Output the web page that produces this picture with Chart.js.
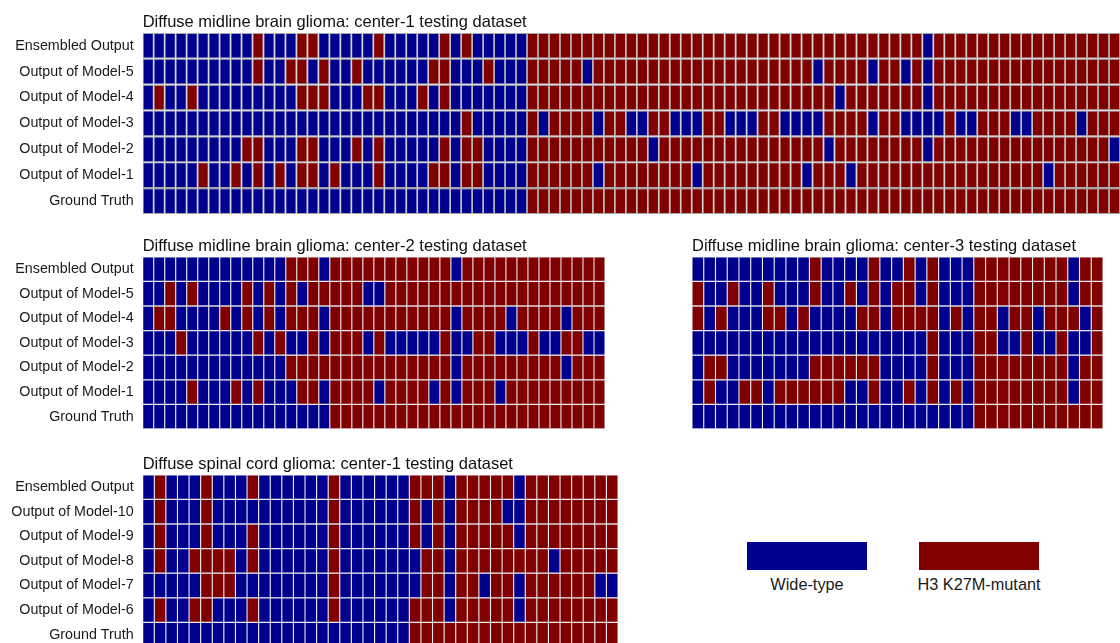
<!DOCTYPE html>
<html>
<head>
<meta charset="utf-8">
<script src="https://cdn.jsdelivr.net/npm/chart.js@4.4.1/dist/chart.umd.min.js"></script>
<style>
  html, body { margin: 0; padding: 0; background: #fff; width: 1120px; height: 643px; overflow: hidden; position: relative; }
  body { font-family: "Liberation Sans", Arial, sans-serif; }
  canvas { position: absolute; }
  .swatch { position: absolute; top: 542px; width: 120px; height: 28px; }
  .swatch-label { position: absolute; top: 574px; width: 200px; text-align: center; font-size: 16.3px; line-height: 20px; color: #1a1a1a; }
</style>
</head>
<body>
<canvas id="brain1" width="1120" height="207" style="left:0;top:7px"></canvas>
<canvas id="brain2" width="605" height="198" style="left:0;top:231px"></canvas>
<canvas id="brain3" width="411" height="198" style="left:692px;top:231px"></canvas>
<canvas id="spinal1" width="618" height="198" style="left:0;top:449px"></canvas>

<div class="swatch" style="left:747px;background:#00008f"></div>
<div class="swatch" style="left:919px;background:#800000"></div>
<div class="swatch-label" style="left:707px">Wide-type</div>
<div class="swatch-label" style="left:879px">H3 K27M-mutant</div>

<script>
// 0 = wild type, 1 = H3 K27M-mutant
const statusNames = ['Wide-type', 'H3 K27M-mutant'];
const statusColors = ['#00008f', '#800000'];

const brainRowLabels = ['Ensembled Output', 'Output of Model-5', 'Output of Model-4', 'Output of Model-3',
  'Output of Model-2', 'Output of Model-1', 'Ground Truth'];
const spinalRowLabels = ['Ensembled Output', 'Output of Model-10', 'Output of Model-9', 'Output of Model-8',
  'Output of Model-7', 'Output of Model-6', 'Ground Truth'];

// Diffuse midline brain glioma, center-1 (89 cases)
const b1Ensembled = [0,0,0,0,0,0,0,0,0,0, 1,0,0,0,1,1,0,0,0,0, 0,1,0,0,0,0,0,1,0,1, 0,0,0,0,0,1,1,1,1,1,
  1,1,1,1,1,1,1,1,1,1, 1,1,1,1,1,1,1,1,1,1, 1,1,1,1,1,1,1,1,1,1, 1,0,1,1,1,1,1,1,1,1, 1,1,1,1,1,1,1,1,1];
const b1Model5 = [0,0,0,0,0,0,0,0,0,0, 1,0,0,1,1,0,1,0,0,1, 0,0,0,0,0,0,1,1,0,0, 0,1,0,0,0,1,1,1,1,1,
  0,1,1,1,1,1,1,1,1,1, 1,1,1,1,1,1,1,1,1,1, 1,0,1,1,1,1,0,1,1,0, 1,0,1,1,1,1,1,1,1,1, 1,1,1,1,1,1,1,1,1];
const b1Model4 = [0,1,0,0,1,0,0,0,0,0, 0,0,0,0,1,1,1,0,0,0, 1,1,0,0,0,1,0,1,0,0, 0,0,0,0,0,1,1,1,1,1,
  1,1,1,1,1,1,1,1,1,1, 1,1,1,1,1,1,1,1,1,1, 1,1,1,0,1,1,1,1,1,1, 1,0,1,1,1,1,1,1,1,1, 1,1,1,1,1,1,1,1,1];
const b1Model3 = [0,0,0,0,0,0,0,0,0,0, 0,0,0,0,0,0,0,0,0,0, 0,0,0,0,0,0,0,0,0,1, 0,0,0,0,0,1,0,1,1,1,
  1,0,1,1,0,0,1,1,0,0, 0,1,1,0,0,0,1,1,0,0, 0,0,1,1,1,1,0,1,1,0, 0,0,0,1,0,0,1,1,1,0, 0,1,1,1,1,0,1,1,1];
const b1Model2 = [0,0,0,0,0,0,0,0,0,1, 1,0,0,0,1,1,0,0,0,1, 0,1,0,0,0,0,0,1,0,1, 1,0,0,0,0,1,1,1,1,1,
  1,1,1,1,1,1,0,1,1,1, 1,1,1,1,1,1,1,1,1,1, 1,1,0,1,1,1,1,1,1,1, 1,0,1,1,1,1,1,1,1,1, 1,1,1,1,1,1,1,1,0];
const b1Model1 = [0,0,0,0,0,1,0,0,1,0, 1,0,1,0,1,1,0,1,0,0, 0,1,0,0,0,0,1,1,0,1, 1,0,0,0,0,1,1,1,1,1,
  1,0,1,1,1,1,1,1,1,1, 0,1,1,1,1,1,1,1,1,1, 0,1,1,1,0,1,1,1,1,1, 1,1,1,1,1,1,1,1,1,1, 1,1,0,1,1,1,1,1,1];
const b1Truth = [0,0,0,0,0,0,0,0,0,0, 0,0,0,0,0,0,0,0,0,0, 0,0,0,0,0,0,0,0,0,0, 0,0,0,0,0,1,1,1,1,1,
  1,1,1,1,1,1,1,1,1,1, 1,1,1,1,1,1,1,1,1,1, 1,1,1,1,1,1,1,1,1,1, 1,1,1,1,1,1,1,1,1,1, 1,1,1,1,1,1,1,1,1];

// Diffuse midline brain glioma, center-2 (42 cases)
const b2Ensembled = [0,0,0,0,0,0,0,0,0,0, 0,0,0,1,1,1,0,1,1,1, 1,1,1,1,1,1,1,1,0,1, 1,1,1,1,1,1,1,1,1,1, 1,1];
const b2Model5 = [0,0,1,0,1,0,0,0,0,1, 0,1,0,1,0,1,1,1,1,1, 0,0,1,1,1,1,1,1,1,1, 1,1,1,1,1,1,1,1,1,1, 1,1];
const b2Model4 = [0,1,1,0,0,0,0,1,0,1, 0,1,0,1,1,1,0,1,1,1, 1,1,1,1,1,1,1,1,0,1, 1,1,1,0,1,1,1,1,0,1, 1,1];
const b2Model3 = [0,0,0,1,0,0,0,0,0,0, 1,0,1,0,0,1,0,1,1,1, 0,1,0,0,0,0,0,1,0,0, 1,1,0,0,0,1,0,0,1,1, 0,0];
const b2Model2 = [0,0,0,0,0,0,0,0,0,0, 0,0,0,1,1,1,1,1,1,1, 1,1,1,1,1,1,1,1,0,1, 1,1,1,1,1,1,1,1,0,1, 1,1];
const b2Model1 = [0,0,0,0,1,0,0,0,1,0, 1,0,0,0,1,1,0,1,1,1, 1,0,1,1,1,1,0,1,0,1, 1,1,0,1,1,1,1,1,1,1, 1,1];
const b2Truth = [0,0,0,0,0,0,0,0,0,0, 0,0,0,0,0,0,0,1,1,1, 1,1,1,1,1,1,1,1,1,1, 1,1,1,1,1,1,1,1,1,1, 1,1];

// Diffuse midline brain glioma, center-3 (35 cases)
const b3Ensembled = [0,0,0,0,0,0,0,0,0,0, 1,0,0,0,0,1,0,0,1,0, 1,0,0,0,1,1,1,1,1,1, 1,1,0,1,1];
const b3Model5 = [1,0,0,1,0,0,1,0,0,0, 1,0,0,1,0,1,0,1,1,0, 1,0,0,0,1,1,1,1,1,1, 1,1,0,1,1];
const b3Model4 = [1,0,1,0,0,0,1,1,0,1, 0,0,0,0,1,1,0,1,1,1, 1,0,1,0,1,1,0,1,1,0, 1,1,1,0,1];
const b3Model3 = [0,0,0,0,0,0,0,0,0,0, 0,0,0,0,0,0,0,0,0,0, 1,0,0,0,1,1,0,0,1,0, 0,1,0,0,1];
const b3Model2 = [0,1,1,0,0,0,0,0,0,0, 1,1,1,1,1,1,0,0,0,0, 1,0,0,0,1,1,1,1,1,1, 1,1,0,1,1];
const b3Model1 = [0,1,0,0,1,1,0,1,1,1, 1,1,1,0,0,1,0,0,1,0, 1,0,1,0,1,1,1,1,1,1, 1,1,0,1,1];
const b3Truth = [0,0,0,0,0,0,0,0,0,0, 0,0,0,0,0,0,0,0,0,0, 0,0,0,0,1,1,1,1,1,1, 1,1,1,1,1];

// Diffuse spinal cord glioma, center-1 (41 cases)
const s1Ensembled = [0,1,0,0,0,1,0,0,0,1, 0,0,0,0,0,0,1,0,0,0, 0,0,0,1,1,1,0,1,1,1, 1,1,0,1,1,1,1,1,1,1, 1];
const s1Model10 = [0,1,0,0,0,1,0,0,0,0, 0,0,0,0,0,0,1,0,0,0, 0,0,0,1,0,1,0,1,1,1, 1,0,0,1,1,1,1,1,1,1, 1];
const s1Model9 = [0,1,0,0,0,1,0,0,0,1, 0,0,0,0,0,0,1,0,0,0, 0,0,0,1,0,1,0,1,1,1, 1,1,0,1,1,1,1,1,1,1, 1];
const s1Model8 = [0,1,0,0,1,1,1,1,0,1, 0,0,0,0,0,0,1,0,0,0, 0,0,0,0,1,1,0,1,1,1, 1,1,1,1,1,0,1,1,1,1, 1];
const s1Model7 = [0,0,0,0,0,1,1,1,0,0, 0,0,0,0,0,0,1,0,0,0, 0,0,0,0,1,1,0,1,1,0, 1,1,0,1,1,1,1,1,1,0, 0];
const s1Model6 = [0,1,0,0,1,1,0,0,0,1, 0,0,0,0,0,0,1,0,0,0, 0,0,0,1,1,1,0,1,1,1, 1,1,0,1,1,1,1,1,1,1, 1];
const s1Truth = [0,0,0,0,0,0,0,0,0,0, 0,0,0,0,0,0,0,0,0,0, 0,0,0,1,1,1,1,1,1,1, 1,1,1,1,1,1,1,1,1,1, 1];

const FONT = '"Liberation Sans", Arial, sans-serif';

// One stacked bar per case; each row is a dataset of unit-height segments
// coloured by the predicted / true status.
function statusGrid(canvasId, title, rowLabels, rows, style) {
  const cases = rows[0].length;
  return new Chart(document.getElementById(canvasId), {
    type: 'bar',
    data: {
      labels: Array.from({ length: cases }, (_, i) => 'Case ' + (i + 1)),
      datasets: rows.map((row, r) => ({
        label: rowLabels[r],
        data: row.map(() => 1),
        backgroundColor: row.map(v => statusColors[v]),
        borderColor: style.gapColor,
        borderWidth: style.gap,
        borderSkipped: false,
        inflateAmount: 0,
        categoryPercentage: 1,
        barPercentage: 1
      }))
    },
    options: {
      responsive: false,
      animation: false,
      devicePixelRatio: 1,
      events: [],
      layout: { padding: 0 },
      plugins: {
        legend: { display: false },
        tooltip: { enabled: false },
        title: {
          display: true,
          text: title,
          align: 'start',
          fullSize: false,
          color: '#111',
          font: { family: FONT, size: 16.5, weight: 'normal', lineHeight: 1.2 },
          padding: { top: 6, bottom: 0 }
        }
      },
      scales: {
        x: { type: 'category', stacked: true, display: false, offset: true },
        y: {
          type: 'linear',
          stacked: true,
          min: 0,
          max: rows.length,
          reverse: true,
          display: style.showLabels,
          grid: { display: false, drawTicks: false },
          border: { display: false },
          ticks: {
            autoSkip: false,
            padding: 9,
            color: '#1a1a1a',
            font: { family: FONT, size: 14.3 },
            callback: (value, index) => rowLabels[index]
          },
          afterBuildTicks: scale => {
            scale.ticks = rowLabels.map((_, i) => ({ value: i + 0.5 }));
          },
          afterFit: scale => {
            scale.width = style.axisWidth;
            scale.paddingTop = 0;
            scale.paddingBottom = 0;
          }
        }
      }
    }
  });
}

const wideGrid = { gap: { left: 0.85, right: 0.85, top: 1.1, bottom: 1.1 }, gapColor: '#a8a8a8', showLabels: true, axisWidth: 142.7 };
const smallGrid = { gap: { left: 0.55, right: 0.55, top: 0.65, bottom: 0.65 }, gapColor: '#cfcfd4', showLabels: true, axisWidth: 142.7 };

statusGrid('brain1', 'Diffuse midline brain glioma: center-1 testing dataset', brainRowLabels,
  [b1Ensembled, b1Model5, b1Model4, b1Model3, b1Model2, b1Model1, b1Truth], wideGrid);
statusGrid('brain2', 'Diffuse midline brain glioma: center-2 testing dataset', brainRowLabels,
  [b2Ensembled, b2Model5, b2Model4, b2Model3, b2Model2, b2Model1, b2Truth], smallGrid);
statusGrid('brain3', 'Diffuse midline brain glioma: center-3 testing dataset', brainRowLabels,
  [b3Ensembled, b3Model5, b3Model4, b3Model3, b3Model2, b3Model1, b3Truth],
  Object.assign({}, smallGrid, { showLabels: false, axisWidth: 0 }));
statusGrid('spinal1', 'Diffuse spinal cord glioma: center-1 testing dataset', spinalRowLabels,
  [s1Ensembled, s1Model10, s1Model9, s1Model8, s1Model7, s1Model6, s1Truth], smallGrid);
</script>
</body>
</html>
